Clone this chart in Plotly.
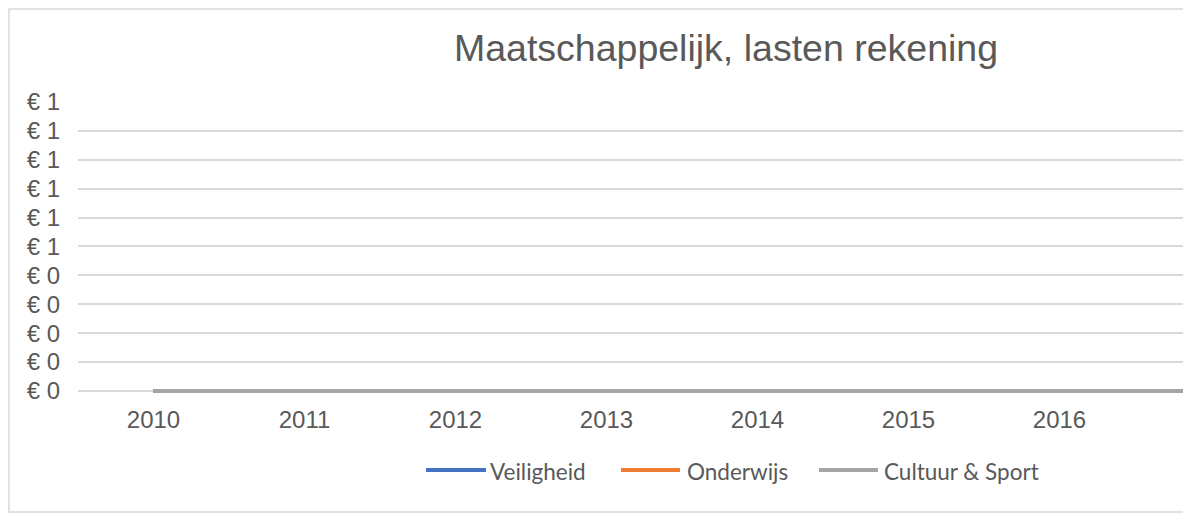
import plotly.graph_objects as go

# data
years = ['2010', '2011', '2012', '2013', '2014', '2015', '2016', '2017']
veiligheid = [0, 0, 0, 0, 0, 0, 0, 0]
onderwijs = [0, 0, 0, 0, 0, 0, 0, 0]
cultuur_sport = [0, 0, 0, 0, 0, 0, 0, 0]
y_ticks = [0, 0.1, 0.2, 0.3, 0.4, 0.5, 0.6, 0.7, 0.8, 0.9, 1.0]
y_labels = ['€ 0', '€ 0', '€ 0', '€ 0', '€ 0', '€ 1', '€ 1', '€ 1', '€ 1', '€ 1', '€ 1']

# the page puts the figure 8px in from the top-left, and the chart is wider
# than the window (the last year is cut off on the right, like the original)
W, H = 1300, 506
L, T, B = 70, 94, 121
cat_w = 151
plot_w = cat_w * len(years)
R = W - L - plot_w
plot_h = H - T - B

grey = '#595959'


def px_x(p):
    return (p - L) / plot_w


def px_y(p):
    return (T + plot_h - p) / plot_h


fig = go.Figure()
series = [('Veiligheid', veiligheid, '#4472C4'),
          ('Onderwijs', onderwijs, '#ED7D31'),
          ('Cultuur & Sport', cultuur_sport, '#A5A5A5')]
for name, vals, col in series:
    fig.add_trace(go.Scatter(x=years, y=vals, name=name, mode='lines',
                             line=dict(color=col, width=4), showlegend=False))

# legend drawn by hand so the key lines get the long Excel look
legend_pos = [(418, 478, 480), (613, 672, 677), (811, 870, 874)]
legend_y = 462
for (name, vals, col), (lx0, lx1, tx) in zip(series, legend_pos):
    fig.add_shape(type='line', xref='paper', yref='paper',
                  x0=px_x(lx0), x1=px_x(lx1), y0=px_y(legend_y), y1=px_y(legend_y),
                  line=dict(color=col, width=4))
    fig.add_annotation(text=name, xref='paper', yref='paper',
                       x=px_x(tx), y=px_y(legend_y + 1), xanchor='left',
                       yanchor='middle', showarrow=False,
                       font=dict(family='Lato', size=22.5, color=grey))

# chart border (light grey frame)
fig.add_shape(type='rect', xref='paper', yref='paper',
              x0=px_x(1), x1=px_x(W + 10), y0=px_y(504), y1=px_y(1),
              line=dict(color='#d9d9d9', width=1.5), layer='below')

fig.update_layout(
    width=W, height=H,
    margin=dict(l=L, r=R, t=T, b=B),
    paper_bgcolor='white', plot_bgcolor='white',
    showlegend=False,
    title=dict(text='Maatschappelijk, lasten rekening', xref='container',
               x=718 / W, xanchor='center', y=1 - 40 / H, yanchor='middle',
               font=dict(family='Liberation Sans', size=37.5, color=grey)),
    xaxis=dict(type='category', range=[-0.5, len(years) - 0.5], showgrid=False,
               showline=False, zeroline=False, ticks='',
               ticklabelstandoff=10,
               tickfont=dict(family='Liberation Sans', size=24, color=grey)),
    yaxis=dict(range=[-0.007, 1.0], tickvals=y_ticks, ticktext=y_labels,
               showgrid=True, gridcolor='#d9d9d9', gridwidth=1.5,
               zeroline=False, showline=False, ticks='',
               ticklabelstandoff=17,
               tickfont=dict(family='Liberation Sans', size=24, color=grey)),
)

fig.write_html('out.html')
